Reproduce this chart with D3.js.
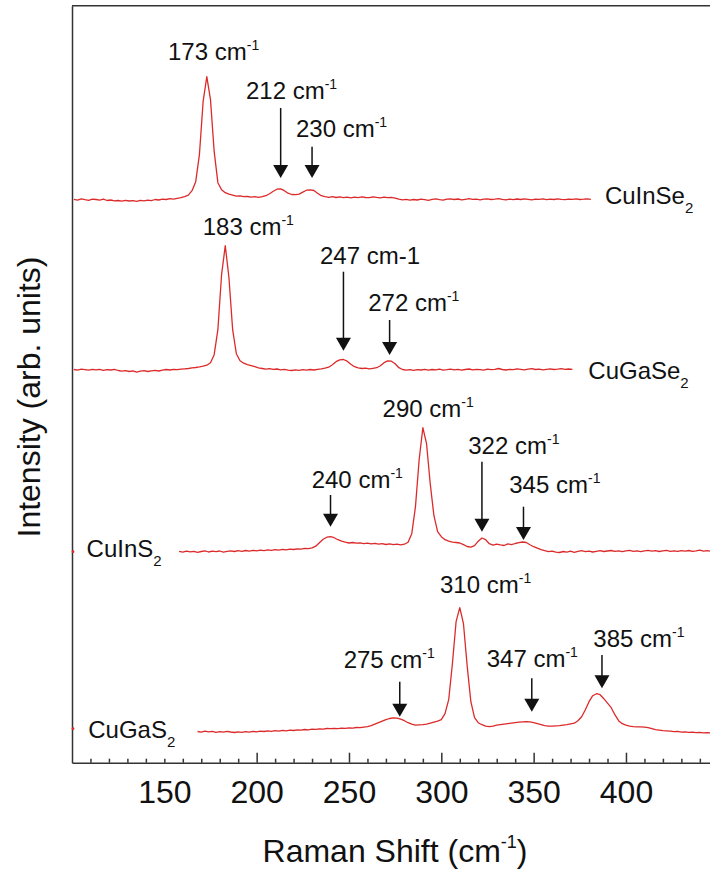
<!DOCTYPE html>
<html>
<head>
<meta charset="utf-8">
<script src="https://cdn.jsdelivr.net/npm/d3@7"></script>
<style>
  body { margin: 0; background: #fff; }
  svg { display: block; font-family: "Liberation Sans", Arial, sans-serif; }
</style>
</head>
<body>
<div id="chart"></div>
<script>
// spectra are sampled every 2 cm-1 starting at spectrumStart
var sampleStep = 2;
var spectrumNames = ['CuInSe', 'CuGaSe', 'CuInS', 'CuGaS'];
var spectrumStart = [101, 101, 158, 168];
var spectrumOffset = [563, 393, 211, 31];

var cuInSe2 = [
    0.3, -0.5, 0.8, 0, -0.6, 0.5, 0.2, -0.4, 0.6, -0.8,
    -0.3, -1.2, -0.8, -1.5, -0.6, -1.3, -1.0, -1.6, -0.7, -1.2,
    -0.4, -0.9, 0.2, -0.3, 0.6, 0.2, 1.0, 0.6, 1.4, 2.0,
    3.0, 4.5, 9, 18, 45, 98, 123, 100, 48, 17,
    10, 7, 5.5, 4.5, 3.5, 3.8, 3.0, 3.2, 2.6, 3.0,
    2.4, 3.0, 4.0, 6.0, 8.5, 10.5, 10.8, 9.0, 6.5, 5.2,
    5.0, 5.6, 7.5, 9.5, 9.8, 9.2, 6.5, 4.0, 3.0, 2.4,
    3.0, 2.2, 2.8, 2.0, 2.6, 1.8, 2.5, 2.0, 2.8, 2.2,
    2.0, 2.9, 2.3, 1.8, 2.6, 2.0, 2.4, 1.6, 0.5, -0.2,
    0.3, -0.5, 0.2, -0.3, 0.6, 0.0, -0.6, 0.4, 0.9, 0.1,
    -0.4, 0.5, 0.8, 0.2, 0.7, -0.2, 0.4, 1.0, 0.3, 0.6,
    -0.1, 0.5, 0.9, 0.2, 0.6, 1.1, 0.4, -0.2, 0.5, 0.1,
    0.7, 0.2, 0.9, 0.4, -0.1, 0.6, 0.3, 0.8, 0.1, 0.5,
    0.2, 0.9, 0.4, 0.0, 0.6, 0.3, 0.8, 0.2, 0.5, 0.9,
    0.4
];

var cuGaSe2 = [
    0.2, -0.4, 0.5, 0.0, -0.5, 0.4, -0.2, 0.3, -0.6, 0.1,
    -0.3, 0.4, -0.8, -1.4, -0.9, -1.8, -1.2, -2.4, -1.5, -1.0,
    -1.8, -1.1, -0.6, -1.3, -0.5, 0.2, -0.3, 0.4, 0.0, 0.6,
    0.9, 1.2, 1.8, 2.2, 2.8, 3.5, 4.5, 7, 15, 40,
    95, 124, 92, 40, 16, 9, 6.5, 5.0, 4.0, 3.0,
    1.8, 1.2, 0.6, 1.0, 0.3, 0.7, -0.2, 0.3, -0.4, -0.8,
    -0.2, -0.7, 0.0, -0.5, 0.2, -0.3, 0.4, 0.8, 1.5, 2.5,
    5.0, 8.0, 9.8, 10.2, 8.5, 5.5, 3.0, 1.8, 1.2, 1.5,
    0.8, 1.4, 2.0, 4.0, 7.0, 8.8, 8.5, 6.0, 2.0, 0.2,
    -0.4, 0.1, -0.6, 0.0, -0.3, 0.3, -0.5, 0.2, -0.2, 0.5,
    -0.4, 0.0, 0.6, -0.1, 0.3, -0.5, 0.2, 0.7, -0.2, 0.4,
    0.1, -0.4, 0.5, 0.0, 0.3, 1.2, 0.2, -0.3, 0.4, 0.0,
    0.8, 0.3, -0.2, 0.5, 1.0, 0.2, 0.6, -0.1, 0.4, 0.9,
    0.2, 0.5, 1.1, 0.3, 0.7, 0.4
];

var cuInS2 = [
    0.3, -0.5, 0.6, -0.2, 0.4, -0.6, 0.2, 0.8, -0.3, 0.5,
    0.0, 0.7, -0.4, 0.3, 0.9, 0.2, 1.0, 0.4, 1.2, 0.6,
    1.4, 0.9, 1.6, 1.1, 1.8, 1.3, 2.0, 1.5, 2.4, 1.9,
    2.6, 2.2, 2.9, 2.5, 3.3, 3.0, 3.8, 5.5, 9.0, 12.5,
    14.5, 15.0, 14.0, 12.0, 10.5, 9.5, 8.7, 9.2, 8.5, 8.9,
    8.0, 8.6, 7.8, 8.3, 7.5, 8.1, 7.2, 7.8, 7.0, 7.6,
    6.8, 7.5, 9.5, 18, 45, 92, 124, 108, 68, 36,
    20, 15, 12, 10.5, 9.5, 9.2, 8.7, 7.0, 5.2, 4.5,
    6.0, 10.5, 13.7, 12.0, 8.0, 6.5, 7.5, 6.8, 6.2, 7.8,
    7.0, 8.2, 9.0, 9.7, 9.2, 7.0, 5.0, 3.5, 2.0, 1.0,
    0.0, 0.6, -0.5, -0.8, 0.2, -0.4, 0.5, -0.6, 0.3, 1.0,
    0.1, 0.6, -0.3, 0.4, 1.1, 0.2, 0.7, 1.2, 0.3, 0.8,
    0.0, 0.9, 1.3, 0.4, 0.8, 0.1, 0.9, 1.4, 0.5, 1.0,
    0.2, 0.8, 1.3, 0.4, 0.9, 0.3, 1.1, 0.6, 1.2, 0.4,
    0.9, 1.5, 0.6, 1.0, 0.5
];

var cuGaS2 = [
    0.2, -0.4, 0.5, -0.2, 0.3, -0.6, 0.0, -0.5, 0.4, -0.3,
    -0.8, -0.2, -0.6, 0.1, -0.4, 0.3, -0.1, 0.6, 0.2, 0.9,
    0.4, 1.0, 0.6, 1.3, 0.9, 1.5, 1.2, 1.8, 1.5, 2.2,
    1.9, 2.5, 2.3, 2.9, 2.6, 3.2, 3.0, 3.4, 3.1, 3.6,
    3.4, 3.8, 3.6, 4.2, 4.0, 4.6, 5.0, 6.0, 7.5, 9.0,
    10.5, 12.0, 13.2, 13.8, 13.5, 12.5, 11.0, 9.0, 7.5, 6.5,
    6.8, 7.0, 7.5, 8.5, 9.5, 10.5, 12.0, 18.0, 32, 68,
    110, 124, 108, 66, 30, 14, 9.0, 7.0, 5.5, 5.0,
    5.5, 6.5, 7.0, 7.5, 8.0, 8.5, 9.0, 9.5, 9.8, 10.0,
    9.8, 9.0, 8.0, 7.0, 6.0, 5.5, 5.5, 5.8, 6.0, 6.5,
    7.0, 7.8, 8.5, 11.0, 15.0, 22.0, 30.0, 36.0, 38.0, 37.0,
    33.0, 28.5, 24.0, 17.0, 11.0, 8.0, 6.5, 5.5, 5.0, 4.8,
    4.8, 4.5, 4.0, 3.0, 2.0, 1.5, 1.0, 0.8, 0.5, 0.1,
    0.3, -0.4, -0.2, -0.7, -0.5, -1.0, -0.6, -1.2, -0.9, -1.2
];

var spectra = [cuInSe2, cuGaSe2, cuInS2, cuGaS2];

// stray single points sitting on the left axis
var strayWave = [100, 100];
var strayValue = [211, 34];

var xTickLabels = [150, 200, 250, 300, 350, 400];
var xMajorTicks = [200, 250, 300, 350, 400];

var peakText = ['173', '183', '290', '310'];
var arrowText = ['212', '230', '247', '272', '240', '322', '345', '275', '347', '385'];
var arrowWave = [213, 230, 247, 272, 240, 322, 344.5, 277.5, 349, 387];
// the 247 label is written "cm-1" without a superscript
var arrowPlainUnit = [false, false, true, false, false, false, false, false, false, false];

// layout of labels, in axis units: [wave, height]
var peakLabelPos = [[152, 702.7], [170.8, 527.7], [268.2, 345.4], [299.3, 169.4]];
// [label wave, label height, arrow top, arrow tip]
var arrowLayout = [
    [194.2, 663.4, 654.7, 584.7],
    [221.3, 626, 616, 584.7],
    [234.3, 498.7, 491, 412],
    [260.4, 452, 442.7, 407.7],
    [229.8, 274.4, 267.7, 236],
    [314.6, 308.7, 301, 231],
    [336.8, 269.4, 256, 222.7],
    [247.1, 94.4, 81, 46],
    [324.6, 95.4, 84.4, 51],
    [382.3, 116, 107.7, 74.4]
];
var nameLabelPos = [[388.6, 558.7], [379.6, 383.4], [107.9, 206], [108.8, 24.4]];

var width = 710, height = 876;
var red = '#dc2a2a';

var svg = d3.select('#chart').append('svg')
    .attr('width', width)
    .attr('height', height);

var x = d3.scaleLinear().domain([100, 450]).range([72, 718.3]);
var y = d3.scaleLinear().domain([0, 757]).range([762.7, 5.7]);

// frame top line
svg.append('line')
    .attr('x1', x(100)).attr('x2', x(450))
    .attr('y1', y(757)).attr('y2', y(757))
    .attr('stroke', '#333').attr('stroke-width', 1.5);

var minorTicks = d3.range(110, 450, 10).filter(function (v) {
    return xMajorTicks.indexOf(v) < 0;
});

var gx = svg.append('g').attr('transform', 'translate(0,' + y(0) + ')');
gx.append('g')
    .call(d3.axisBottom(x).tickValues(minorTicks).tickSize(-4).tickSizeOuter(0).tickFormat(''));
gx.append('g')
    .call(d3.axisBottom(x).tickValues(xMajorTicks).tickSize(-10).tickSizeOuter(0).tickFormat(''))
    .select('.domain').remove();
gx.append('g')
    .call(d3.axisBottom(x).tickValues(xTickLabels).tickSize(0).tickPadding(17.6).tickFormat(d3.format('d')))
    .call(function (g) { g.select('.domain').remove(); g.selectAll('line').remove(); })
    .selectAll('text')
    .attr('font-size', 32)
    .attr('font-family', '"Liberation Sans", Arial, sans-serif')
    .attr('fill', '#111');
gx.selectAll('path, line').attr('stroke', '#333').attr('stroke-width', 1.5);

svg.append('g')
    .attr('transform', 'translate(' + x(100) + ',0)')
    .call(d3.axisLeft(y).tickValues([]).tickSizeOuter(0))
    .selectAll('path').attr('stroke', '#333').attr('stroke-width', 1.5);

// spectra
var line = d3.line()
    .x(function (d) { return x(d[0]); })
    .y(function (d) { return y(d[1]); });

spectra.forEach(function (vals, i) {
    var pts = vals.map(function (v, j) {
        return [spectrumStart[i] + j * sampleStep, v + spectrumOffset[i]];
    });
    svg.append('path')
        .datum(pts)
        .attr('fill', 'none')
        .attr('stroke', red)
        .attr('stroke-width', 1.3)
        .attr('stroke-linejoin', 'round')
        .attr('d', line);
});

svg.selectAll('.stray')
    .data(strayWave)
    .enter().append('circle')
    .attr('class', 'stray')
    .attr('cx', function (d) { return x(d) + 1; })
    .attr('cy', function (d, i) { return y(strayValue[i]); })
    .attr('r', 1.4)
    .attr('fill', red);

// labels
function cmLabel(g, px, py, num, plain) {
    var t = g.append('text')
        .attr('x', px).attr('y', py)
        .attr('font-size', 24)
        .attr('fill', '#111');
    if (plain) {
        t.text(num + ' cm-1');
        return;
    }
    t.append('tspan').text(num + ' cm');
    t.append('tspan').attr('font-size', 14).attr('dy', -10).text('-1');
}

var ann = svg.append('g');

peakText.forEach(function (p, i) {
    cmLabel(ann, x(peakLabelPos[i][0]), y(peakLabelPos[i][1]), p, false);
});

arrowText.forEach(function (p, i) {
    var L = arrowLayout[i];
    var ax = x(arrowWave[i]);
    var tip = y(L[3]);
    cmLabel(ann, x(L[0]), y(L[1]), p, arrowPlainUnit[i]);
    ann.append('line')
        .attr('x1', ax).attr('x2', ax)
        .attr('y1', y(L[2])).attr('y2', tip - 12)
        .attr('stroke', '#111').attr('stroke-width', 1.5);
    ann.append('path')
        .attr('d', 'M' + (ax - 7.5) + ',' + (tip - 13) + 'L' + (ax + 7.5) + ',' + (tip - 13) + 'L' + ax + ',' + tip + 'Z')
        .attr('fill', '#111');
});

spectrumNames.forEach(function (n, i) {
    var t = ann.append('text')
        .attr('x', x(nameLabelPos[i][0]))
        .attr('y', y(nameLabelPos[i][1]))
        .attr('font-size', 24)
        .attr('fill', '#111');
    t.append('tspan').text(n);
    t.append('tspan').attr('font-size', 15).attr('dy', 9).text('2');
});

// axis titles
var xt = svg.append('text')
    .attr('x', 395).attr('y', 861.7)
    .attr('text-anchor', 'middle')
    .attr('font-size', 32)
    .attr('fill', '#111');
xt.append('tspan').text('Raman Shift (cm');
xt.append('tspan').attr('font-size', 18).attr('dy', -14).text('-1');
xt.append('tspan').attr('dy', 14).text(')');

svg.append('text')
    .attr('transform', 'translate(40,397) rotate(-90)')
    .attr('text-anchor', 'middle')
    .attr('font-size', 32)
    .attr('fill', '#111')
    .text('Intensity (arb. units)');
</script>
</body>
</html>
